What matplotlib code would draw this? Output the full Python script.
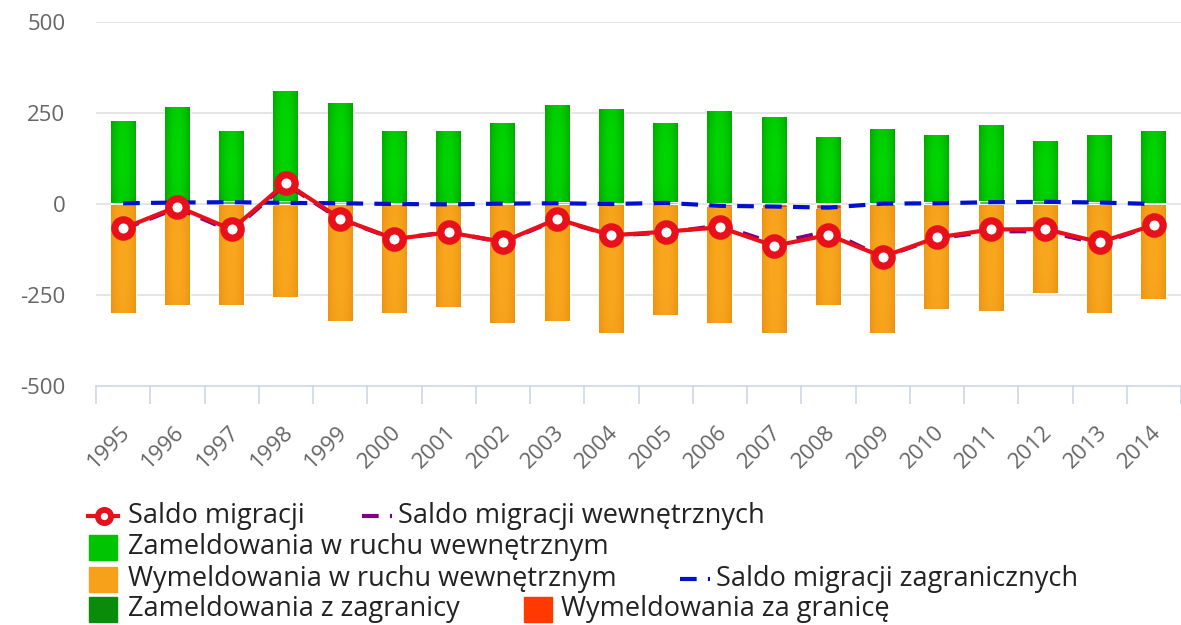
import matplotlib
matplotlib.use('Agg')
import matplotlib.pyplot as plt
import numpy as np
from matplotlib.lines import Line2D
from matplotlib.patches import Rectangle
from matplotlib.colors import LinearSegmentedColormap
import matplotlib.transforms as mtransforms

plt.rcParams['font.family'] = ['Open Sans', 'DejaVu Sans']

years = [str(y) for y in range(1995, 2015)]
zam_wewn = [224, 261, 193, 303, 273, 197, 197, 218, 267, 258, 217, 252, 235, 180, 201, 184, 210, 164, 183, 196]
wym_wewn = [298, 276, 276, 250, 319, 297, 279, 325, 319, 352, 304, 320, 345, 264, 352, 285, 292, 243, 298, 257]
zam_zagr = [4, 6, 7, 8, 5, 3, 3, 4, 5, 3, 5, 3, 3, 3, 4, 5, 7, 8, 6, 4]
wym_zagr = [2, 2, 2, 5, 3, 3, 4, 3, 3, 3, 2, 8, 10, 13, 3, 3, 2, 2, 2, 4]
saldo = [-67, -7, -70, 58, -40, -96, -78, -104, -41, -86, -76, -64, -115, -85, -145, -92, -70, -69, -105, -58]
saldo_wewn = [-69, -11, -75, 55, -42, -96, -77, -105, -43, -86, -79, -59, -108, -75, -146, -94, -75, -75, -109, -58]
saldo_zagr = [2, 4, 5, 3, 2, 0, -1, 1, 2, 0, 3, -5, -7, -10, 1, 2, 5, 6, 4, 0]
yticks = [-500, -250, 0, 250, 500]

C_GREEN = '#00c400'
C_DGREEN = '#0a8c0a'
C_ORANGE = '#f7a11b'
C_RED_BAR = '#ff3a00'
C_RED = '#e8101a'
C_PURPLE = '#800080'
C_BLUE = '#0010d0'

W, H = 1181, 625
fig = plt.figure(figsize=(W / 100, H / 100), dpi=100)
ax = fig.add_axes([96 / W, 1 - 386 / H, (W - 96) / W, (386 - 22) / H])

x = np.arange(len(years))
zam_zagr_a = np.array(zam_zagr)
wym_zagr_a = np.array(wym_zagr)
bw = 0.46
ax.bar(x, zam_zagr, bw, color=C_DGREEN, edgecolor='white', linewidth=1, zorder=2)
bars_g = ax.bar(x, zam_wewn, bw, bottom=zam_zagr_a, color=C_GREEN, edgecolor='white', linewidth=1, zorder=2)
ax.bar(x, -wym_zagr_a, bw, color=C_RED_BAR, edgecolor='white', linewidth=1, zorder=2)
bars_o = ax.bar(x, -np.array(wym_wewn), bw, bottom=-wym_zagr_a, color=C_ORANGE, edgecolor='white', linewidth=1, zorder=2)

# soft gradient shading on the main bars
u = np.linspace(0, 1, 64)
v = np.linspace(0, 1, 64)
U, V = np.meshgrid(u, v)
grad = 1 - np.clip(((U - 0.5) / 0.5) ** 2 * 0.8 + ((V - 0.5) / 0.5) ** 2 * 0.2, 0, 1)
cm_g = LinearSegmentedColormap.from_list('g', ['#00a600', '#00d600'])
cm_o = LinearSegmentedColormap.from_list('o', ['#ec9214', '#f9a81e'])
for bars, cm in ((bars_g, cm_g), (bars_o, cm_o)):
    for r in bars:
        x0, y0 = r.get_x(), r.get_y()
        w, h = r.get_width(), r.get_height()
        im = ax.imshow(grad, extent=[x0, x0 + w, min(y0, y0 + h), max(y0, y0 + h)],
                       aspect='auto', cmap=cm, origin='lower', zorder=2.05, interpolation='bilinear')
        im.set_clip_path(r)

ax.plot(x, saldo_zagr, color=C_BLUE, lw=3, dashes=(4, 2.7), zorder=3)
ax.plot(x, saldo_wewn, color=C_PURPLE, lw=3, dashes=(4, 2.7), zorder=3)
ax.plot(x, saldo, color=C_RED, lw=3, zorder=4, marker='o', markersize=12.5,
        markerfacecolor='white', markeredgecolor=C_RED, markeredgewidth=5.2)

ax.set_xlim(-0.5, len(years) - 0.5)
ax.set_ylim(-500, 500)
ax.set_yticks(yticks)
ax.set_yticklabels([str(v) for v in yticks])
for val in yticks[1:]:
    ax.axhline(val, color='#e0e0e0', lw=1.2, zorder=0)
for s in ['top', 'right', 'left']:
    ax.spines[s].set_visible(False)
ax.spines['bottom'].set_color('#ccd6eb')
ax.spines['bottom'].set_linewidth(1.2)

ax.tick_params(axis='y', length=0, pad=22, labelsize=16, labelcolor='#666666')
ax.set_xticks(x)
ax.set_xticklabels(years, rotation=45, ha='right', va='center', rotation_mode='anchor')
ax.tick_params(axis='x', which='major', length=0, pad=31, labelsize=16, labelcolor='#666666')
ax.set_xticks(np.arange(-0.5, len(years), 1), minor=True)
ax.tick_params(axis='x', which='minor', length=13, width=1.2, color='#ccd6eb')
off = mtransforms.ScaledTranslation(4 / 100, 0, fig.dpi_scale_trans)
for lab in ax.get_xticklabels():
    lab.set_transform(lab.get_transform() + off)


def fx(px):
    return px / W


def fy(py):
    return 1 - py / H


TXT = dict(fontsize=19.5, color='#222222', va='center', ha='left')

# row 1
y1 = 516
fig.add_artist(Line2D([fx(88), fx(118)], [fy(y1), fy(y1)], color=C_RED, lw=3))
fig.add_artist(Line2D([fx(104)], [fy(y1)], marker='o', markersize=9.5, markerfacecolor='white',
                      markeredgecolor=C_RED, markeredgewidth=4.2, color=C_RED))
fig.text(fx(128), fy(y1), 'Saldo migracji', **TXT)
fig.add_artist(Line2D([fx(362), fx(392)], [fy(y1), fy(y1)], color=C_PURPLE, lw=3, dashes=(4, 2.7)))
fig.text(fx(398), fy(y1), 'Saldo migracji wewnętrznych', **TXT)

# row 2
sq_w, sq_h = 28, 25
y2 = 547
fig.add_artist(Rectangle((fx(89), fy(y2 + sq_h / 2)), sq_w / W, sq_h / H, color=C_GREEN))
fig.text(fx(128), fy(y2), 'Zameldowania w ruchu wewnętrznym', **TXT)

# row 3
y3 = 579
fig.add_artist(Rectangle((fx(89), fy(y3 + sq_h / 2)), sq_w / W, sq_h / H, color=C_ORANGE))
fig.text(fx(128), fy(y3), 'Wymeldowania w ruchu wewnętrznym', **TXT)
fig.add_artist(Line2D([fx(680), fx(710)], [fy(y3), fy(y3)], color=C_BLUE, lw=3, dashes=(4, 2.7)))
fig.text(fx(716), fy(y3), 'Saldo migracji zagranicznych', **TXT)

# row 4
y4 = 609
fig.add_artist(Rectangle((fx(89), fy(y4 + sq_h / 2)), sq_w / W, sq_h / H, color=C_DGREEN))
fig.text(fx(128), fy(y4), 'Zameldowania z zagranicy', **TXT)
fig.add_artist(Rectangle((fx(524), fy(y4 + sq_h / 2)), sq_w / W, sq_h / H, color=C_RED_BAR))
fig.text(fx(561), fy(y4), 'Wymeldowania za granicę', **TXT)

fig.savefig('out.png', dpi=100)
